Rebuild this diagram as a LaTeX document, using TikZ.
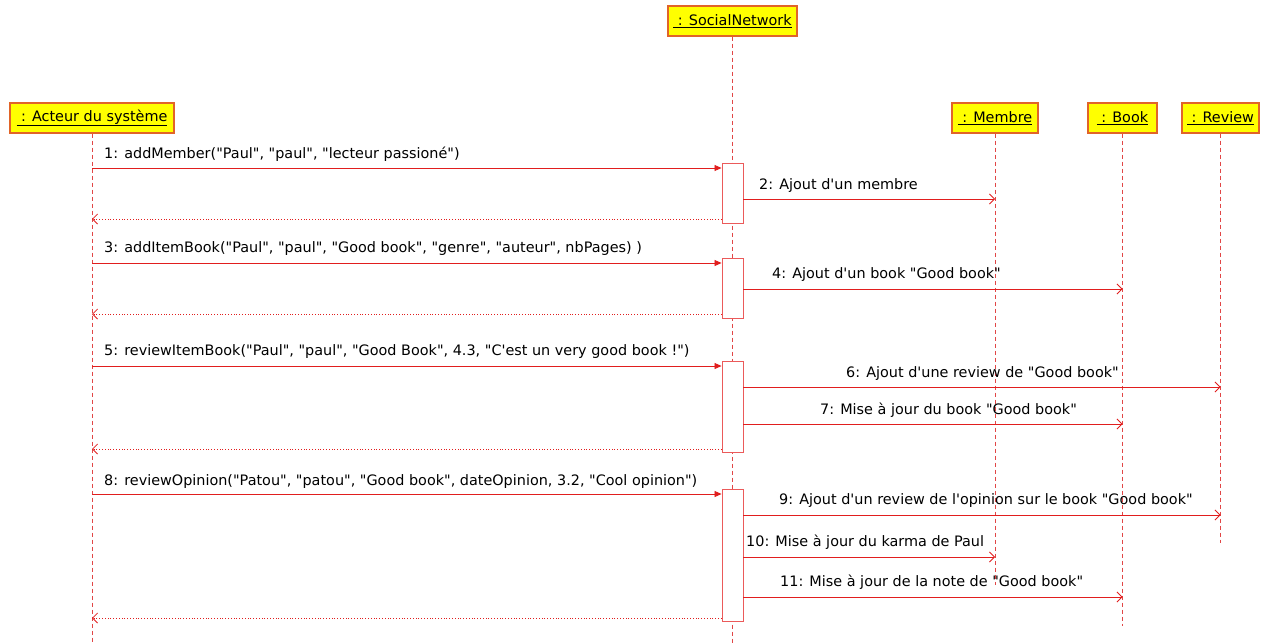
\documentclass[tikz,border=0pt]{standalone}
\usepackage{fontspec}
\setmainfont{DejaVu Sans}[Ligatures=TeXOff]
\usetikzlibrary{arrows.meta}
\definecolor{hdrfill}{RGB}{255,255,0}
\definecolor{hdrline}{RGB}{225,100,40}
\definecolor{msg}{RGB}{225,30,30}
\definecolor{life}{RGB}{225,70,70}
\definecolor{actline}{RGB}{235,90,90}
\begin{document}
\begin{tikzpicture}[x=1pt,y=-1pt,
  hdr/.style={draw=hdrline, fill=hdrfill, line width=1.2pt, minimum height=30pt, inner sep=0pt, font=\fontsize{14.4}{16}\selectfont},
  lifeline/.style={draw=life, dash pattern=on 4pt off 3pt, line width=0.8pt},
  actbox/.style={draw=actline, fill=white, minimum width=21pt, inner sep=0pt, line width=0.9pt},
  call/.style={draw=msg, line width=0.8pt, -{Triangle[length=7pt,width=6pt]}},
  async/.style={draw=msg, line width=0.8pt, -{Straight Barb[length=5pt,width=10pt,line width=0.8pt]}},
  ret/.style={draw=msg, dotted, line width=0.8pt, -{Straight Barb[length=5pt,width=10pt,line width=0.8pt]}},
  lbl/.style={anchor=base west, inner sep=0pt, font=\fontsize{14.4}{16}\selectfont}]
\useasboundingbox (0,0) rectangle (1276,643);

% headers
\node[hdr, minimum width=164pt] (acteur) at (92,118) {\underline{\ : Acteur du système}};
\node[hdr, minimum width=129pt] (sn) at (732.5,21) {\underline{\ : SocialNetwork}};
\node[hdr, minimum width=86pt] (membre) at (995,118) {\underline{\ : Membre}};
\node[hdr, minimum width=69pt] (book) at (1122.5,118) {\underline{\ : Book}};
\node[hdr, minimum width=77pt] (review) at (1220.5,118) {\underline{\ : Review}};

% lifeline ends
\coordinate (eActeur) at (92,643);
\coordinate (eSn) at (732.5,643);
\coordinate (eMembre) at (995,585);
\coordinate (eBook) at (1122.5,626);
\coordinate (eReview) at (1220.5,543);

\draw[lifeline] (acteur.south) -- (eActeur);
\draw[lifeline] (sn.south) -- (eSn);
\draw[lifeline] (membre.south) -- (eMembre);
\draw[lifeline] (book.south) -- (eBook);
\draw[lifeline] (review.south) -- (eReview);

% activation boxes
\node[actbox, minimum height=60pt] (act1) at (732.5,193) {};
\node[actbox, minimum height=60pt] (act2) at (732.5,288) {};
\node[actbox, minimum height=91pt] (act3) at (732.5,406.5) {};
\node[actbox, minimum height=132pt] (act4) at (732.5,555) {};

% rows
\coordinate (r1) at (0,168);
\coordinate (r1r) at (0,219);
\coordinate (r2) at (0,199);
\coordinate (r3) at (0,263);
\coordinate (r3r) at (0,314);
\coordinate (r4) at (0,289);
\coordinate (r5) at (0,366);
\coordinate (r6) at (0,387);
\coordinate (r7) at (0,424);
\coordinate (r5r) at (0,449);
\coordinate (r8) at (0,494);
\coordinate (r9) at (0,515);
\coordinate (r10) at (0,557);
\coordinate (r11) at (0,597);
\coordinate (r8r) at (0,618);

% messages
\draw[call] (acteur |- r1) -- (act1.west |- r1);
\draw[async] (act1.east |- r2) -- (membre |- r2);
\draw[ret] (act1.west |- r1r) -- (acteur |- r1r);

\draw[call] (acteur |- r3) -- (act2.west |- r3);
\draw[async] (act2.east |- r4) -- (book |- r4);
\draw[ret] (act2.west |- r3r) -- (acteur |- r3r);

\draw[call] (acteur |- r5) -- (act3.west |- r5);
\draw[async] (act3.east |- r6) -- (review |- r6);
\draw[async] (act3.east |- r7) -- (book |- r7);
\draw[ret] (act3.west |- r5r) -- (acteur |- r5r);

\draw[call] (acteur |- r8) -- (act4.west |- r8);
\draw[async] (act4.east |- r9) -- (review |- r9);
\draw[async] (act4.east |- r10) -- (membre |- r10);
\draw[async] (act4.east |- r11) -- (book |- r11);
\draw[ret] (act4.west |- r8r) -- (acteur |- r8r);

% labels
\node[lbl] (l1) at (104,158) {1: addMember("Paul", "paul", "lecteur passioné")};
\node[lbl] (l2) at (759,189) {2: Ajout d'un membre};
\node[lbl] (l3) at (104,252) {3: addItemBook("Paul", "paul", "Good book", "genre", "auteur", nbPages) )};
\node[lbl] (l4) at (772,278) {4: Ajout d'un book "Good book"};
\node[lbl] (l5) at (104,355) {5: reviewItemBook("Paul", "paul", "Good Book", 4.3, "C'est un very good book !")};
\node[lbl] (l6) at (846,377) {6: Ajout d'une review de "Good book"};
\node[lbl] (l7) at (820,414) {7: Mise à jour du book "Good book"};
\node[lbl] (l8) at (104,485) {8: reviewOpinion("Patou", "patou", "Good book", dateOpinion, 3.2, "Cool opinion")};
\node[lbl] (l9) at (779,504) {9: Ajout d'un review de l'opinion sur le book "Good book"};
\node[lbl] (l10) at (746,546) {10: Mise à jour du karma de Paul};
\node[lbl] (l11) at (780,586) {11: Mise à jour de la note de "Good book"};
\end{tikzpicture}
\end{document}
